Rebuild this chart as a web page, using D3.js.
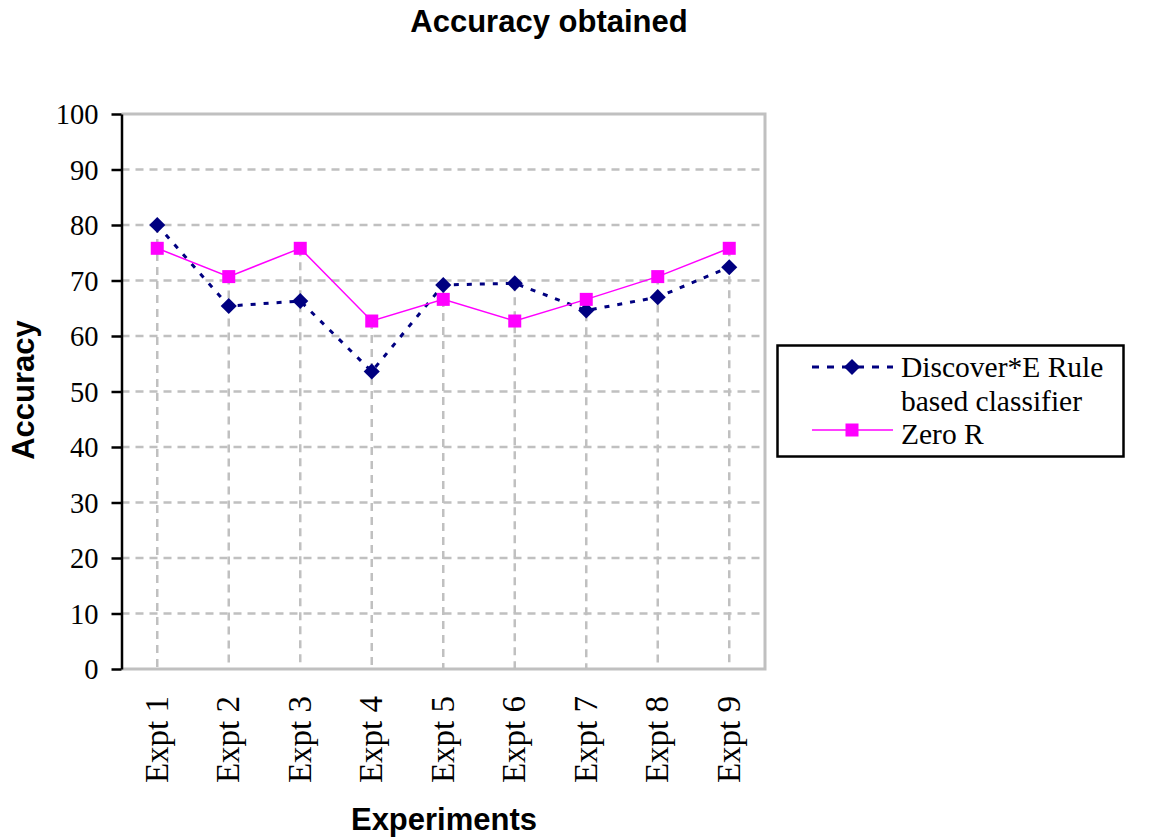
<!DOCTYPE html>
<html>
<head>
<meta charset="utf-8">
<script src="https://cdn.jsdelivr.net/npm/d3@7"></script>
<style>
  html, body { margin: 0; padding: 0; background: #fff; }
  svg { display: block; }
</style>
</head>
<body>
<script>
// Accuracy per experiment for the two classifiers
const categories = ["Expt 1", "Expt 2", "Expt 3", "Expt 4", "Expt 5", "Expt 6", "Expt 7", "Expt 8", "Expt 9"];
const discoverValues = [80.0, 65.4, 66.3, 53.6, 69.2, 69.5, 64.6, 67.0, 72.4];
const zeroRValues = [75.8, 70.7, 75.8, 62.7, 66.6, 62.7, 66.6, 70.7, 75.8];
const yTicks = [0, 10, 20, 30, 40, 50, 60, 70, 80, 90, 100];
const seriesNames = ["Discover*E Rule based classifier", "Zero R"];

const W = 1152, H = 840;
const plot = { left: 121.5, right: 765, top: 114, bottom: 669 };

const svg = d3.select("body").append("svg").attr("width", W).attr("height", H);

const x = d3.scalePoint().domain(categories).range([plot.left, plot.right]).padding(0.5);
const y = d3.scaleLinear().domain([0, 100]).range([plot.bottom, plot.top]);

const grid = "#c0c0c0";
const serif = "'Liberation Serif', 'Times New Roman', serif";
const sans = "'Liberation Sans', Arial, sans-serif";

// Horizontal gridlines (dashed) inside the plot area
svg.append("g").selectAll("line")
  .data(yTicks.filter(d => d > 0 && d < 100))
  .join("line")
  .attr("x1", plot.left).attr("x2", plot.right)
  .attr("y1", d => y(d)).attr("y2", d => y(d))
  .attr("stroke", grid).attr("stroke-width", 2.5).attr("stroke-dasharray", "8,6");

// Drop lines from the higher of the two values down to the axis
svg.append("g").selectAll("line")
  .data(categories)
  .join("line")
  .attr("x1", d => x(d)).attr("x2", d => x(d))
  .attr("y1", (d, i) => y(Math.max(discoverValues[i], zeroRValues[i])))
  .attr("y2", plot.bottom)
  .attr("stroke", grid).attr("stroke-width", 2.5).attr("stroke-dasharray", "8,6");

// Plot frame: top, right and bottom edges in grey
svg.append("path")
  .attr("d", `M${plot.left},${plot.top}H${plot.right}V${plot.bottom}H${plot.left}`)
  .attr("fill", "none").attr("stroke", grid).attr("stroke-width", 3);

// Y axis
const yAxis = svg.append("g")
  .attr("transform", `translate(${plot.left},0)`)
  .call(d3.axisLeft(y).tickValues(yTicks).tickSize(10).tickPadding(13).tickSizeOuter(0));
yAxis.select(".domain").attr("stroke", "#000").attr("stroke-width", 2.5);
yAxis.selectAll(".tick line").attr("stroke", "#000").attr("stroke-width", 2.5);
yAxis.selectAll(".tick text")
  .attr("font-family", serif).attr("font-size", 28.5).attr("fill", "#000").attr("dy", "0.34em");

// X axis labels (rotated)
const xAxis = svg.append("g")
  .attr("transform", `translate(0,${plot.bottom})`)
  .call(d3.axisBottom(x).tickSize(0).tickPadding(0));
xAxis.select(".domain").remove();
xAxis.selectAll(".tick text")
  .attr("font-family", serif).attr("font-size", 33).attr("fill", "#000")
  .attr("text-anchor", "end")
  .attr("transform", "rotate(-90)")
  .attr("x", -27).attr("y", 0).attr("dy", "0.3em");

// Series lines and markers
const line = d3.line().x((d, i) => x(categories[i])).y(d => y(d));
const navy = "#000080", magenta = "#ff00ff";

svg.append("path").datum(discoverValues)
  .attr("d", line).attr("fill", "none")
  .attr("stroke", navy).attr("stroke-width", 3).attr("stroke-dasharray", "5,8");

const diamond = d3.symbol().type(d3.symbolDiamond2).size(165);
svg.append("g").selectAll("path")
  .data(discoverValues)
  .join("path")
  .attr("d", diamond)
  .attr("transform", (d, i) => `translate(${x(categories[i])},${y(d)})`)
  .attr("fill", navy);

svg.append("path").datum(zeroRValues)
  .attr("d", line).attr("fill", "none")
  .attr("stroke", magenta).attr("stroke-width", 1.5);

svg.append("g").selectAll("rect")
  .data(zeroRValues)
  .join("rect")
  .attr("x", (d, i) => x(categories[i]) - 6.5)
  .attr("y", d => y(d) - 6.5)
  .attr("width", 13).attr("height", 13)
  .attr("fill", magenta);

// Title and axis titles
svg.append("text")
  .attr("x", 549).attr("y", 32)
  .attr("text-anchor", "middle")
  .attr("font-family", sans).attr("font-weight", "bold").attr("font-size", 31)
  .text("Accuracy obtained");

svg.append("text")
  .attr("x", 444).attr("y", 830)
  .attr("text-anchor", "middle")
  .attr("font-family", sans).attr("font-weight", "bold").attr("font-size", 31)
  .text("Experiments");

svg.append("text")
  .attr("transform", "translate(34,390) rotate(-90)")
  .attr("text-anchor", "middle")
  .attr("font-family", sans).attr("font-weight", "bold").attr("font-size", 31)
  .text("Accuracy");

// Legend
const legend = svg.append("g");
legend.append("rect")
  .attr("x", 777.5).attr("y", 345.5).attr("width", 346).attr("height", 111)
  .attr("fill", "#fff").attr("stroke", "#000").attr("stroke-width", 2.5);

legend.append("line")
  .attr("x1", 812).attr("x2", 893).attr("y1", 367).attr("y2", 367)
  .attr("stroke", navy).attr("stroke-width", 3).attr("stroke-dasharray", "7,8");
legend.append("path")
  .attr("d", diamond)
  .attr("transform", "translate(852,367)")
  .attr("fill", navy);

legend.append("line")
  .attr("x1", 812).attr("x2", 893).attr("y1", 430).attr("y2", 430)
  .attr("stroke", magenta).attr("stroke-width", 1.5);
legend.append("rect")
  .attr("x", 845.5).attr("y", 423.5).attr("width", 13).attr("height", 13)
  .attr("fill", magenta);

const legendText = legend.append("text")
  .attr("font-family", serif).attr("font-size", 29.5).attr("fill", "#000");
legendText.append("tspan").attr("x", 901).attr("y", 377).text("Discover*E Rule");
legendText.append("tspan").attr("x", 901).attr("y", 411).text("based classifier");
legend.append("text")
  .attr("x", 901).attr("y", 444)
  .attr("font-family", serif).attr("font-size", 29.5).attr("fill", "#000")
  .text(seriesNames[1]);
</script>
</body>
</html>
